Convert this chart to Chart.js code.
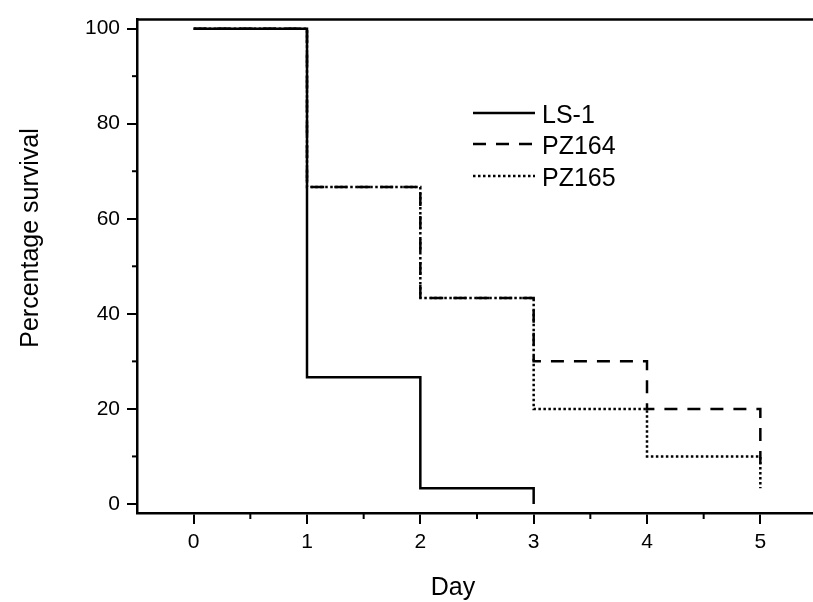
<!DOCTYPE html>
<html>
<head>
<meta charset="utf-8">
<title>Percentage survival</title>
<script src="https://cdn.jsdelivr.net/npm/chart.js@4.4.0/dist/chart.umd.min.js"></script>
<style>
  html, body { margin: 0; padding: 0; background: #fff; overflow: hidden; }
  #wrap { width: 820px; height: 602px; }
</style>
</head>
<body>
<div id="wrap"><canvas id="myChart" width="820" height="602"></canvas></div>
<script>
const days = [0, 1, 2, 3, 4, 5];
const ls1 = [100, 26.67, 3.33, 0];
const pz164 = [100, 66.67, 43.33, 30, 20, 6.67];
const pz165 = [100, 66.67, 43.33, 20, 10, 3.33];
const seriesNames = ["LS-1", "PZ164", "PZ165"];
const xTicks = [0, 1, 2, 3, 4, 5];
const xMinorTicks = [0.5, 1.5, 2.5, 3.5, 4.5];
const yTicks = [0, 20, 40, 60, 80, 100];
const yMinorTicks = [10, 30, 50, 70, 90];
const xTitle = "Day";
const yTitle = "Percentage survival";

const fontFamily = "'Liberation Sans', Arial, sans-serif";

function toPoints(values) {
  return values.map((v, i) => ({ x: days[i], y: v }));
}

// axis frame extras, minor ticks, legend and titles
const extras = {
  id: "extras",
  afterDraw(chart) {
    const ctx = chart.ctx;
    const area = chart.chartArea;
    const xs = chart.scales.x;
    const ys = chart.scales.y;
    ctx.save();
    ctx.strokeStyle = "#000";
    ctx.fillStyle = "#000";

    //top frame line
    ctx.lineWidth = 2.5;
    ctx.beginPath();
    ctx.moveTo(area.left - 1, area.top);
    ctx.lineTo(area.right + 2, area.top);
    ctx.stroke();

    //minor ticks
    ctx.lineWidth = 2;
    xMinorTicks.forEach((v) => {
      const px = xs.getPixelForValue(v);
      ctx.beginPath();
      ctx.moveTo(px, area.bottom);
      ctx.lineTo(px, area.bottom + 6);
      ctx.stroke();
    });
    yMinorTicks.forEach((v) => {
      const py = ys.getPixelForValue(v);
      ctx.beginPath();
      ctx.moveTo(area.left - 5, py);
      ctx.lineTo(area.left, py);
      ctx.stroke();
    });

    //legend
    const rows = [113, 144, 176];
    ctx.font = "25px " + fontFamily;
    ctx.textBaseline = "middle";
    chart.data.datasets.forEach((ds, i) => {
      ctx.lineWidth = ds.borderWidth;
      ctx.setLineDash(ds.borderDash || []);
      ctx.beginPath();
      ctx.moveTo(473, rows[i]);
      ctx.lineTo(535, rows[i]);
      ctx.stroke();
      ctx.setLineDash([]);
      ctx.fillText(ds.label, 542, rows[i] + 3);
    });

    //axis titles
    ctx.textAlign = "center";
    ctx.fillText(xTitle, 453, 588);
    ctx.translate(31, 238);
    ctx.rotate(-Math.PI / 2);
    ctx.fillText(yTitle, 0, 0);
    ctx.restore();
  },
};

const lineStyles = [
  { dash: [] },
  { dash: [13, 10] },
  { dash: [2.5, 2.5] },
];

new Chart("myChart", {
  type: "line",
  data: {
    datasets: [ls1, pz164, pz165].map((values, i) => ({
      label: seriesNames[i],
      data: toPoints(values),
      stepped: "before",
      borderColor: "#000",
      borderWidth: 2.5,
      borderDash: lineStyles[i].dash,
      pointRadius: 0,
      fill: false,
    })),
  },
  options: {
    responsive: false,
    animation: false,
    events: [],
    layout: { padding: { top: 13, right: 3, left: 0, bottom: 0 } },
    plugins: {
      legend: { display: false },
      tooltip: { enabled: false },
    },
    scales: {
      x: {
        type: "linear",
        min: -0.5,
        max: 5.5,
        afterBuildTicks: (s) => {
          s.ticks = xTicks.map((v) => ({ value: v }));
        },
        afterFit: (s) => {
          s.height = 89;
        },
        grid: {
          drawOnChartArea: false,
          color: "#000",
          lineWidth: 2,
          tickLength: 11,
        },
        border: { color: "#000", width: 2.5 },
        ticks: {
          color: "#000",
          font: { family: fontFamily, size: 21 },
          padding: 6,
          maxRotation: 0,
        },
      },
      y: {
        type: "linear",
        min: -1.9,
        max: 101.9,
        afterBuildTicks: (s) => {
          s.ticks = yTicks.map((v) => ({ value: v }));
        },
        afterFit: (s) => {
          s.width = 137;
        },
        grid: {
          drawOnChartArea: false,
          color: "#000",
          lineWidth: 2,
          tickLength: 10,
        },
        border: { color: "#000", width: 2.5 },
        ticks: {
          color: "#000",
          font: { family: fontFamily, size: 21 },
          padding: 7,
        },
      },
    },
  },
  plugins: [extras],
});
</script>
</body>
</html>
